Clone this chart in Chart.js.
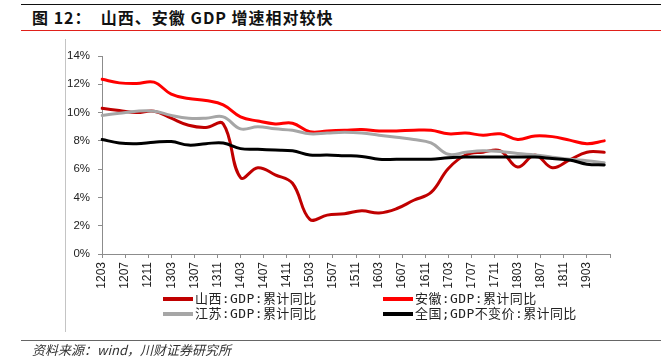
<!DOCTYPE html>
<html><head><meta charset="utf-8">
<script src="https://cdn.jsdelivr.net/npm/chart.js@4/dist/chart.umd.min.js"></script>
<style>
html,body{margin:0;padding:0;background:#fff;}
#wrap{position:relative;width:664px;height:364px;overflow:hidden;font-family:"Noto Sans CJK SC",sans-serif;}
#c{position:absolute;left:0;top:0;}
.hl{position:absolute;left:21px;width:640px;}
#title{position:absolute;left:32px;top:6px;font-size:16px;font-weight:bold;letter-spacing:1px;white-space:pre;color:#111;line-height:22px;}
#legend{position:absolute;left:163px;top:291px;display:grid;grid-template-columns:220px 220px;grid-auto-rows:15px;}
.li{display:flex;align-items:center;white-space:pre;font-family:"DejaVu Sans Mono","Noto Sans CJK SC",monospace;font-size:13px;letter-spacing:0.4px;color:#222;line-height:15px;}
.sw{width:30px;height:4px;margin-right:2px;}
#src{position:absolute;left:32px;top:342px;font-size:13px;font-style:italic;color:#333;line-height:16px;white-space:pre;}
</style></head><body>
<div id="wrap">
 <div class="hl" style="top:4px;height:1px;background:#111"></div>
 <div id="title">图 12：  山西、安徽 GDP 增速相对较快</div>
 <div class="hl" style="top:30px;height:1px;background:#e0201a"></div>
 <div style="position:absolute;left:65px;top:39px;width:1px;height:293px;background:#c4c4c4"></div>
 <canvas id="c" width="664" height="364"></canvas>
 <div id="legend"></div>
 <div class="hl" style="top:340px;height:1px;background:#666"></div>
 <div id="src">资料来源：wind，川财证券研究所</div>
</div>
<script>
// monthly category axis
const months = ['1203','1204','1205','1206','1207','1208','1209','1210','1211','1212',
 '1301','1302','1303','1304','1305','1306','1307','1308','1309','1310','1311','1312',
 '1401','1402','1403','1404','1405','1406','1407','1408','1409','1410','1411','1412',
 '1501','1502','1503','1504','1505','1506','1507','1508','1509','1510','1511','1512',
 '1601','1602','1603','1604','1605','1606','1607','1608','1609','1610','1611','1612',
 '1701','1702','1703','1704','1705','1706','1707','1708','1709','1710','1711','1712',
 '1801','1802','1803','1804','1805','1806','1807','1808','1809','1810','1811','1812',
 '1901','1902','1903','1904','1905','1906','1907'];
// labels shown on the x axis
const tickLabels = ['1203','1207','1211','1303','1307','1311','1403','1407','1411','1503','1507',
 '1511','1603','1607','1611','1703','1707','1711','1803','1807','1811','1903'];
// quarterly observation dates
const quarters = ['1203','1206','1209','1212','1303','1306','1309','1312','1403','1406','1409','1412',
 '1503','1506','1509','1512','1603','1606','1609','1612','1703','1706','1709','1712',
 '1803','1806','1809','1812','1903','1906'];
// series values (%)
const shanxi  = [10.3,10.15,10.0,10.1,9.6,9.1,8.95,9.2,5.4,6.1,5.6,5.0,2.45,2.75,2.85,3.05,2.9,3.2,3.8,4.35,6.05,7.0,7.2,7.3,6.15,7.0,6.1,6.65,7.2,7.2];
const anhui   = [12.35,12.1,12.05,12.15,11.3,11.0,10.85,10.55,9.7,9.4,9.2,9.25,8.65,8.7,8.75,8.8,8.7,8.7,8.75,8.75,8.5,8.55,8.4,8.5,8.1,8.35,8.3,8.05,7.8,8.0];
const jiangsu = [9.8,9.95,10.1,10.1,9.8,9.6,9.6,9.7,8.85,9.0,8.85,8.75,8.5,8.55,8.6,8.55,8.4,8.25,8.1,7.85,7.05,7.2,7.3,7.25,7.1,7.0,6.85,6.7,6.6,6.45];
const national= [8.1,7.85,7.8,7.9,7.95,7.7,7.8,7.85,7.45,7.4,7.35,7.3,7.0,7.0,6.95,6.9,6.7,6.7,6.7,6.7,6.8,6.85,6.85,6.85,6.85,6.85,6.75,6.65,6.35,6.3];
const yTicks = [0,2,4,6,8,10,12,14];

const seriesNames = ['山西:GDP:累计同比','安徽:GDP:累计同比','江苏:GDP:累计同比','全国;GDP不变价:累计同比'];
const seriesData = [shanxi, anhui, jiangsu, national];
const seriesColors = ['#c00000','#ff0000','#a6a6a6','#000000'];
const drawOrder = [3,2,1,0];

const datasets = seriesNames.map((n,i)=>({
  label:n,
  data: quarters.map((q,k)=>({x:q,y:seriesData[i][k]})),
  borderColor: seriesColors[i],
  backgroundColor: seriesColors[i],
  borderWidth:3,
  pointRadius:0,
  tension:0.4,
  fill:false,
  order: drawOrder[i]
}));

const axisCol = '#8c8c8c';
new Chart(document.getElementById('c').getContext('2d'), {
  type:'line',
  data:{labels:months, datasets},
  options:{
    responsive:false, animation:false, devicePixelRatio:1,
    layout:{padding:{left:42,right:54,top:56,bottom:70}},
    plugins:{legend:{display:false}, tooltip:{enabled:false}},
    elements:{line:{borderCapStyle:'round',borderJoinStyle:'round'}},
    scales:{
      x:{
        type:'category', offset:false,
        grid:{drawOnChartArea:false, drawTicks:true, tickLength:4,
              color:'rgba(0,0,0,0)',
              tickColor:(c)=> (c.index % 4 === 0) ? axisCol : 'rgba(0,0,0,0)'},
        border:{display:true, color:axisCol, width:1},
        ticks:{autoSkip:false, minRotation:90, maxRotation:90, padding:4, color:'#222',
               font:{family:'Liberation Sans', size:12},
               callback:function(v){ const l=this.getLabelForValue(v); return tickLabels.includes(l) ? l : ''; }},
        afterFit:(s)=>{ s.height = 40; }
      },
      y:{
        min:0, max:14,
        afterBuildTicks:(s)=>{ s.ticks = yTicks.map(v=>({value:v})); },
        grid:{drawOnChartArea:false, drawTicks:true, tickLength:4, tickColor:axisCol},
        border:{display:true, color:axisCol, width:1},
        ticks:{padding:8, color:'#222', font:{family:'Liberation Sans', size:11.5},
               callback:(v)=> v + '%'},
        afterFit:(s)=>{ s.width = 60; }
      }
    }
  }
});

// legend built from the series
const lg = document.getElementById('legend');
seriesNames.forEach((n,i)=>{
  const d = document.createElement('div'); d.className='li';
  const sw = document.createElement('span'); sw.className='sw'; sw.style.background = seriesColors[i];
  d.appendChild(sw); d.appendChild(document.createTextNode(n));
  lg.appendChild(d);
});
</script>
</body></html>
